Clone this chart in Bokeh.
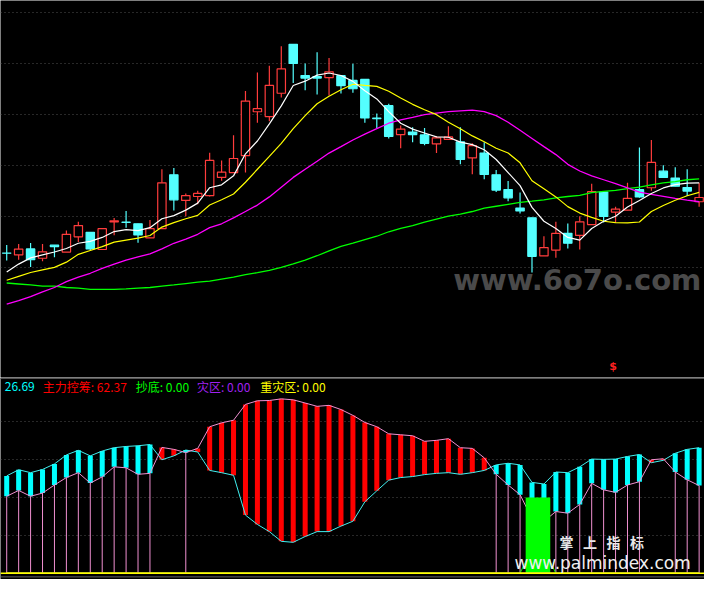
import numpy as np
from bokeh.plotting import figure
from bokeh.models import Range1d, FixedTicker, Label, Span
from bokeh.layouts import column
from bokeh.embed import file_html
from bokeh.resources import INLINE

# ---------------- price panel data (candles + moving averages) ----------------
open_ = [17.04, 16.94, 17.25, 16.77, 17.44, 17.09, 17.87, 18.10, 17.22, 18.63,
         18.62, 18.54, 17.82, 18.29, 21.05, 19.74, 19.94, 19.99, 20.92, 21.17,
         22.04, 24.29, 24.04, 25.24, 27.75, 26.15, 26.10, 26.04, 26.14, 25.90,
         25.95, 23.96, 24.60, 23.12, 23.25, 23.10, 22.64, 22.87, 22.74, 21.92,
         22.17, 21.05, 20.30, 19.35, 18.85, 16.89, 17.19, 18.05, 17.94, 18.50,
         20.17, 19.14, 19.24, 20.29, 20.39, 21.24, 20.89, 20.40, 19.67]
high = [17.45, 17.50, 17.55, 17.50, 17.44, 18.20, 18.65, 18.10, 18.29, 18.84,
        19.20, 18.54, 18.74, 21.34, 21.40, 20.10, 20.24, 22.19, 21.79, 23.09,
        25.35, 26.30, 26.65, 27.65, 27.75, 26.77, 27.35, 27.05, 26.14, 26.75,
        25.95, 24.20, 24.70, 23.59, 23.49, 23.45, 23.04, 23.55, 23.50, 22.67,
        22.72, 21.30, 20.74, 20.15, 18.85, 17.90, 18.65, 18.55, 18.92, 20.60,
        20.17, 19.42, 20.64, 22.45, 22.84, 21.54, 21.44, 21.34, 20.64]
low = [16.65, 16.70, 16.32, 16.62, 16.82, 17.09, 17.60, 17.20, 17.22, 17.95,
       18.34, 17.57, 17.82, 18.29, 19.22, 18.92, 19.54, 19.94, 20.75, 21.17,
       21.17, 23.72, 23.80, 25.02, 25.77, 25.39, 25.17, 25.12, 25.23, 25.27,
       23.72, 23.45, 22.92, 22.42, 22.72, 22.57, 22.17, 22.87, 21.59, 21.08,
       20.82, 20.17, 19.69, 19.07, 16.04, 16.89, 16.79, 17.27, 17.22, 18.50,
       18.60, 18.62, 19.24, 19.87, 20.24, 20.92, 20.47, 19.97, 19.42]
close = [17.03, 17.24, 16.70, 17.10, 17.37, 18.00, 18.45, 17.25, 18.29, 18.69,
         18.61, 17.97, 18.29, 20.64, 19.77, 19.99, 20.10, 21.79, 21.19, 21.89,
         24.84, 24.45, 25.64, 26.49, 26.77, 26.02, 26.02, 26.34, 25.63, 25.47,
         23.97, 23.94, 23.02, 23.40, 23.12, 22.67, 22.95, 23.00, 21.84, 22.55,
         21.07, 20.27, 19.87, 19.20, 16.87, 17.32, 18.05, 17.54, 18.64, 20.19,
         18.92, 19.29, 19.84, 19.92, 21.69, 20.92, 20.47, 20.22, 19.89]

ma5 = [16.07, 16.47, 16.79, 16.94, 17.09, 17.27, 17.54, 17.64, 17.84, 18.14,
       18.24, 18.19, 18.34, 18.80, 18.96, 19.24, 19.60, 20.39, 20.54, 21.00,
       22.13, 22.79, 23.67, 24.59, 25.64, 25.86, 26.17, 26.28, 26.15, 25.85,
       25.37, 24.95, 24.30, 23.70, 23.40, 23.20, 23.00, 22.98, 22.73, 22.60,
       22.34, 21.84, 21.17, 20.50, 19.38, 18.67, 18.30, 17.84, 17.70, 18.30,
       18.67, 18.93, 19.40, 19.73, 20.09, 20.38, 20.55, 20.63, 20.64]
ma10 = [15.64, 15.84, 16.04, 16.17, 16.30, 16.57, 16.97, 17.17, 17.37, 17.60,
        17.70, 17.80, 17.94, 18.37, 18.60, 18.80, 18.97, 19.50, 19.77, 20.07,
        20.67, 21.34, 22.00, 22.67, 23.42, 24.09, 24.70, 25.09, 25.42, 25.70,
        25.64, 25.59, 25.34, 25.00, 24.67, 24.39, 24.14, 23.75, 23.42, 23.05,
        22.75, 22.42, 22.17, 21.67, 20.75, 20.34, 19.92, 19.42, 19.09, 18.87,
        18.67, 18.60, 18.59, 18.63, 19.17, 19.48, 19.75, 19.98, 20.15]
ma30 = [14.42, 14.59, 14.80, 15.04, 15.27, 15.57, 15.80, 16.00, 16.25, 16.47,
        16.67, 16.84, 17.00, 17.25, 17.54, 17.75, 18.00, 18.34, 18.54, 18.84,
        19.17, 19.50, 19.92, 20.42, 20.92, 21.34, 21.75, 22.17, 22.50, 22.84,
        23.14, 23.42, 23.70, 23.87, 24.00, 24.14, 24.22, 24.30, 24.34, 24.37,
        24.30, 24.09, 23.75, 23.34, 22.92, 22.50, 22.09, 21.59, 21.25, 21.00,
        20.80, 20.60, 20.38, 20.17, 20.05, 19.95, 19.84, 19.75, 19.67]
ma60 = [15.50, 15.45, 15.40, 15.34, 15.34, 15.27, 15.24, 15.17, 15.17, 15.17,
        15.20, 15.24, 15.27, 15.34, 15.40, 15.47, 15.54, 15.60, 15.70, 15.80,
        15.93, 16.03, 16.15, 16.30, 16.48, 16.68, 16.90, 17.15, 17.38, 17.55,
        17.73, 17.90, 18.13, 18.30, 18.45, 18.63, 18.78, 18.93, 19.03, 19.17,
        19.34, 19.44, 19.54, 19.64, 19.70, 19.77, 19.87, 19.94, 20.00, 20.14,
        20.20, 20.25, 20.34, 20.42, 20.54, 20.64, 20.70, 20.80, 20.84]
price_grid = [16.29, 18.91, 21.52, 24.14, 26.75, 29.37]

# ---------------- indicator panel data ----------------
ind_cyan = [51.38, 54.62, 53.08, 54.77, 57.69, 62.46, 64.87, 61.95, 64.51, 66.26,
            66.92, 67.28, 67.95, 59.90, 61.95, 65.03, 64.00, 54.26, 53.08, 51.69,
            30.67, 25.74, 21.95, 16.82, 16.31, 19.38, 21.95, 21.95, 24.87, 27.44,
            37.69, 43.49, 49.13, 50.51, 51.03, 52.05, 52.72, 53.08, 52.21, 53.08,
            54.26, 57.18, 58.05, 57.18, 47.95, 47.08, 53.44, 53.08, 56.15, 60.26,
            60.10, 60.26, 61.64, 62.67, 58.36, 59.59, 63.33, 65.38, 66.26]
ind_pink = [40.62, 43.69, 40.62, 42.31, 46.56, 50.51, 53.08, 47.59, 50.87, 56.15,
            55.64, 52.21, 52.72, 66.41, 65.38, 63.69, 65.90, 77.33, 79.38, 80.77,
            89.13, 91.03, 91.18, 92.05, 91.54, 89.85, 88.10, 88.62, 86.41, 83.33,
            79.59, 77.33, 73.59, 73.08, 72.56, 69.64, 70.15, 71.03, 66.26, 65.90,
            60.92, 52.21, 46.56, 41.44, 28.97, 27.44, 32.56, 31.69, 36.31, 47.44,
            44.00, 42.67, 46.56, 48.31, 59.90, 60.41, 53.44, 49.33, 46.26]
chaodi_line = [0, 0, 0, 0, 0, 0, 0, 0, 0, 0, 0, 0, 0, 0, 0, 0, 0, 0, 0, 0,
               0, 0, 0, 0, 0, 0, 0, 0, 0, 0, 0, 0, 0, 0, 0, 0, 0, 0, 0, 0,
               0, 0, 0, 0, 13, 13, 0, 0, 0, 0, 0, 0, 0, 0, 0, 0, 0, 0, 0]
chaodi_stick = [0, 0, 0, 0, 0, 0, 0, 0, 0, 0, 0, 0, 0, 0, 0, 0, 0, 0, 0, 0,
                0, 0, 0, 0, 0, 0, 0, 0, 0, 0, 0, 0, 0, 0, 0, 0, 0, 0, 0, 0,
                0, 0, 0, 0, 40, 40, 0, 0, 0, 0, 0, 0, 0, 0, 0, 0, 0, 0, 0]
zaiqu = [0.0] * len(ind_cyan)
zhongzaiqu = [0.0] * len(ind_cyan)
ind_grid = [20, 40, 60, 80]

header_names = ["", "主力控筹", "抄底", "灾区", "重灾区"]
header_values = ["26.69", "62.37", "0.00", "0.00", "0.00"]

# ---------------- layout constants ----------------
W, HT, HB = 704, 377, 202
SX = W / 720.0
BG = "#000000"
RED = "#FF3C3C"
CYAN = "#54FFFF"

n = len(open_)
x = np.arange(n)
o = np.array(open_); c = np.array(close); h = np.array(high); l = np.array(low)
up = c >= o
col = np.where(up, RED, CYAN)
fill = np.where(up, BG, CYAN)

xr = Range1d(-0.52, 58.45)


def base_fig(height, yr):
    f = figure(width=W, height=height, x_range=xr, y_range=yr,
               output_backend="svg", toolbar_location=None,
               x_axis_location=None, y_axis_location=None,
               background_fill_color=BG, border_fill_color=BG,
               min_border=0, outline_line_color=None)
    f.xgrid.visible = False
    f.ygrid.grid_line_color = "#505050"
    f.ygrid.grid_line_dash = "1 3"
    f.ygrid.grid_line_width = 1
    return f


# ---------------- top panel ----------------
top = base_fig(HT, Range1d(10.65, 30.0))
top.ygrid.ticker = FixedTicker(ticks=price_grid)

top.segment(x0=x, y0=l, x1=x, y1=h, line_color=col, line_width=1.2)
top.vbar(x=x, width=0.7, top=np.maximum(o, c), bottom=np.minimum(o, c),
         fill_color=fill, line_color=col, line_width=1.2)

top.line(x, ma60, line_color="#00FF00", line_width=1.3)
top.line(x, ma30, line_color="#FF00FF", line_width=1.3)
top.line(x, ma10, line_color="#FFFF00", line_width=1.2)
top.line(x, ma5, line_color="#FFFFFF", line_width=1.2)

top.add_layout(Label(x=463 * SX, y=HT - 287 * HT / 387.0, x_units="screen", y_units="screen",
                     text="www.6o7o.com", text_font="DejaVu Sans", text_font_size="29px",
                     text_font_style="bold", text_color="#4A4A4A", text_baseline="alphabetic"))
top.add_layout(Label(x=626.5 * SX, y=11, x_units="screen", y_units="screen",
                     text="$", text_font="DejaVu Sans", text_font_size="11px",
                     text_font_style="bold", text_color="#FF2020",
                     text_align="center", text_baseline="middle"))

# ---------------- bottom panel ----------------
bot = base_fig(HB, Range1d(-3.33, 103.33))
bot.ygrid.ticker = FixedTicker(ticks=ind_grid)

A = np.array(ind_cyan); B = np.array(ind_pink)
cy = A > B
bot.segment(x0=x[cy], y0=np.zeros(cy.sum()), x1=x[cy], y1=B[cy],
            line_color="#F090D0", line_width=1)
bot.vbar(x=x, width=0.42, top=np.maximum(A, B), bottom=np.minimum(A, B),
         fill_color=np.where(cy, "#00FFFF", "#FF0000"), line_color=None)
bot.line(x, A, line_color="#40F0F0", line_width=1)
bot.line(x, B, line_color="#F090D0", line_width=1)

st = np.array(chaodi_stick) > 0
bot.vbar(x=x[st], width=1.06, top=np.array(chaodi_stick)[st], bottom=0,
         fill_color="#00FF00", line_color=None)
bot.line(x, chaodi_line, line_color="#00FF00", line_width=1)
bot.line(x, zaiqu, line_color="#A020F0", line_width=1)
bot.line(x, zhongzaiqu, line_color="#FFFF00", line_width=1.5)
bot.add_layout(Span(location=0, dimension="width", line_color="#FFFF00", line_width=1.5))
bot.add_layout(Span(location=-1.95, dimension="width", line_color="#606060", line_width=1))
bot.add_layout(Span(location=102.8, dimension="width", line_color="#555555", line_width=1))

hy = HB - (396.7 - 387) * HB / 208.0
hx = [None, 43.3, 138.3, 201.0, 265.7]
hcol = ["#00FFFF", "#FF0000", "#00FF00", "#A020F0", "#FFFF00"]
bot.add_layout(Label(x=35 * SX, y=hy, x_units="screen", y_units="screen",
                     text=header_values[0], text_font="Noto Sans CJK SC",
                     text_font_size="12px", text_color=hcol[0],
                     text_align="right", text_baseline="middle"))
for i in range(1, 5):
    bot.add_layout(Label(x=hx[i] * SX, y=hy, x_units="screen", y_units="screen",
                         text=f"{header_names[i]}: {header_values[i]}",
                         text_font="Noto Sans CJK SC", text_font_size="12px",
                         text_color=hcol[i], text_baseline="middle"))

gap = "\u00a0" * 3
bot.add_layout(Label(x=571.7 * SX, y=HB - (556 - 387) * HB / 208.0, x_units="screen", y_units="screen",
                     text=gap.join(["掌", "上", "指", "标"]), text_font="Noto Sans CJK SC",
                     text_font_size="14px", text_font_style="bold", text_color="#E8E8E8",
                     text_baseline="middle"))
bot.add_layout(Label(x=525.7 * SX, y=HB - (578 - 387) * HB / 208.0, x_units="screen", y_units="screen",
                     text="www.palmindex.com", text_font="DejaVu Sans", text_font_size="17px",
                     text_color="#F0F0F0", text_baseline="alphabetic"))

p = column(top, bot, spacing=0)
open("out.html", "w").write(file_html(p, INLINE))
